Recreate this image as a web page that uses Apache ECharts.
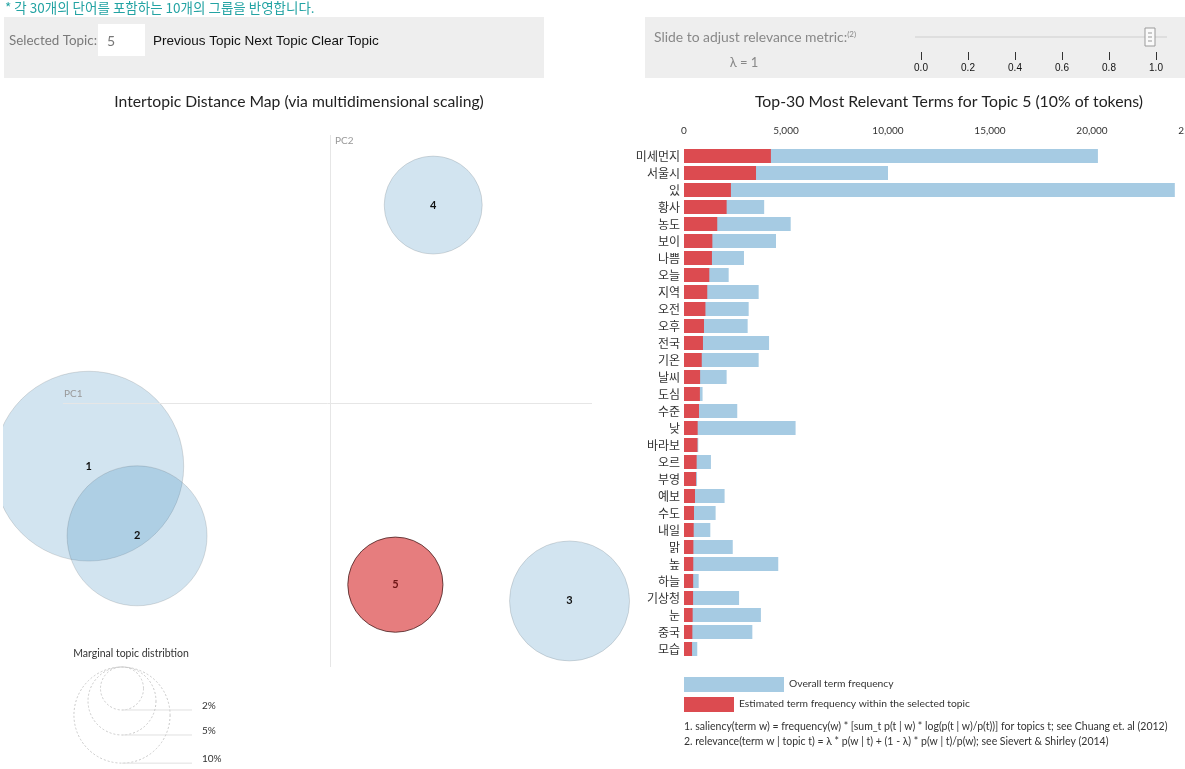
<!DOCTYPE html>
<html><head><meta charset="utf-8">
<script src="https://cdn.jsdelivr.net/npm/echarts@6/dist/echarts.min.js"></script>
<style>html,body{margin:0;padding:0;background:#fff}#c{width:1185px;height:769px}</style>
</head><body><div id="c"></div>
<script>
// ---- data ----
const topicIds = ['1', '2', '3', '4', '5'];
const topicPC1 = [-0.370, -0.296, 0.367, 0.158, 0.100];
const topicPC2 = [-0.097, -0.204, -0.304, 0.304, -0.279];
const topicShare = [39.0, 21.2, 15.6, 10.4, 9.8];   // % of tokens
const selectedTopic = '5';
const marginalShares = [2, 5, 10];

const terms = ['미세먼지','서울시','있','황사','농도','보이','나쁨','오늘','지역','오전','오후','전국','기온','날씨','도심',
  '수준','낮','바라보','오르','부영','예보','수도','내일','맑','높','하늘','기상청','눈','중국','모습'];
const termTotal = [20290, 10000, 24060, 3930, 5230, 4510, 2940, 2190, 3660, 3170, 3120, 4170, 3660, 2090, 910,
  2610, 5470, 700, 1320, 640, 1990, 1550, 1290, 2390, 4620, 720, 2700, 3770, 3350, 650];
const termTopic = [4260, 3530, 2300, 2090, 1630, 1390, 1370, 1240, 1140, 1050, 980, 930, 870, 790, 780,
  735, 670, 660, 620, 590, 540, 490, 475, 460, 455, 450, 445, 425, 410, 395];
const freqTicks = [0, 5000, 10000, 15000, 20000, 25000];
const lambdaTicks = [0, 0.2, 0.4, 0.6, 0.8, 1.0];
const lambdaValue = 1;

// ---- styles ----
const UI = 'Lato';
const KR = '"Noto Sans CJK KR"';
const rScale = 15.2;   // px radius per sqrt(%)
const rad = p => rScale * Math.sqrt(p);

const chart = echarts.init(document.getElementById('c'), null, {renderer: 'canvas'});

function txt(x, y, text, size, fill, opts) {
  opts = opts || {};
  return {type: 'text', z: opts.z || 10, x: x, y: y, silent: true,
    style: Object.assign({text: text, fill: fill, font: (opts.weight || 'normal') + ' ' + size + 'px ' + (opts.family || UI),
      align: opts.align || 'left', textAlign: opts.align || 'left',
      verticalAlign: 'middle', textVerticalAlign: 'middle'}, opts.extra || {})};
}

const graphics = [];
// header note
graphics.push(txt(5, 8, '* 각 30개의 단어를 포함하는 10개의 그룹을 반영합니다.', 13.5, '#23a3a3', {family: KR}));
// control panels
graphics.push({type: 'rect', z: 1, shape: {x: 4, y: 17, width: 540, height: 61}, style: {fill: '#eeeeee'}, silent: true});
graphics.push({type: 'rect', z: 1, shape: {x: 645, y: 17, width: 545, height: 61}, style: {fill: '#eeeeee'}, silent: true});
graphics.push(txt(9, 41, 'Selected Topic:', 13.4, '#7a7a7a'));
graphics.push({type: 'rect', z: 2, shape: {x: 98, y: 24, width: 47, height: 32}, style: {fill: '#ffffff'}, silent: true});
graphics.push(txt(107, 41, selectedTopic, 14, '#777'));
graphics.push(txt(153, 41, 'Previous Topic Next Topic Clear Topic', 13.5, '#111', {family: '"Liberation Sans"'}));
graphics.push({type: 'text', z: 10, x: 654, y: 38, silent: true, style: {
  text: '{a|Slide to adjust relevance metric:}{b|(2)}',
  align: 'left', textAlign: 'left', verticalAlign: 'middle', textVerticalAlign: 'middle',
  rich: {a: {fontFamily: UI, fontSize: 13.9, fill: '#888', color: '#888', lineHeight: 16},
         b: {fontFamily: UI, fontSize: 8, fill: '#888', color: '#888', verticalAlign: 'top', lineHeight: 16}}}});
graphics.push(txt(744, 63, 'λ = ' + lambdaValue, 13, '#888', {align: 'center'}));
// slider track + handle
graphics.push({type: 'rect', z: 2, shape: {x: 915, y: 36, width: 252, height: 2}, style: {fill: '#dedede'}, silent: true});
graphics.push({type: 'rect', z: 3, shape: {x: 1145, y: 28, width: 10, height: 18}, style: {fill: '#fafafa', stroke: '#9a9a9a', lineWidth: 1}, silent: true});
[33, 37, 41].forEach(y => graphics.push({type: 'line', z: 4, shape: {x1: 1148, y1: y, x2: 1152, y2: y}, style: {stroke: '#999', lineWidth: 1}, silent: true}));
// titles
graphics.push(txt(299, 102, 'Intertopic Distance Map (via multidimensional scaling)', 15.7, '#222', {align: 'center'}));
graphics.push(txt(949, 102, 'Top-30 Most Relevant Terms for Topic ' + selectedTopic + ' (10% of tokens)', 15.8, '#222', {align: 'center'}));
graphics.push(txt(64, 394, 'PC1', 10, '#999'));
graphics.push(txt(335, 141, 'PC2', 10, '#999'));
// marginal topic distribution legend
graphics.push(txt(131, 654, 'Marginal topic distribtion', 10.5, '#333', {align: 'center'}));
const legTop = 667, legX = 122;
marginalShares.forEach(p => {
  const r = rad(p);
  graphics.push({type: 'circle', z: 5, shape: {cx: legX, cy: legTop + r, r: r},
    style: {fill: 'none', stroke: '#c8c8c8', lineWidth: 1, lineDash: [2, 2]}, silent: true});
  graphics.push({type: 'line', z: 5, shape: {x1: legX, y1: legTop + 2 * r, x2: 192, y2: legTop + 2 * r},
    style: {stroke: '#e0e0e0', lineWidth: 1}, silent: true});
  graphics.push(txt(202, legTop + 2 * r - 4, p + '%', 10, '#333'));
});
// bar legend + notes
graphics.push({type: 'rect', z: 5, shape: {x: 684, y: 677, width: 100, height: 15}, style: {fill: '#a6cbe3'}, silent: true});
graphics.push(txt(789, 684, 'Overall term frequency', 10.3, '#333'));
graphics.push({type: 'rect', z: 5, shape: {x: 684, y: 697, width: 50, height: 15}, style: {fill: '#dc4b50'}, silent: true});
graphics.push(txt(739, 704, 'Estimated term frequency within the selected topic', 10.3, '#333'));
graphics.push(txt(684, 727, '1. saliency(term w) = frequency(w) * [sum_t p(t | w) * log(p(t | w)/p(t))] for topics t; see Chuang et. al (2012)', 10.5, '#333'));
graphics.push(txt(684, 742, '2. relevance(term w | topic t) = \u03bb * p(w | t) + (1 - \u03bb) * p(w | t)/p(w); see Sievert & Shirley (2014)', 10.5, '#333'));
// left-edge clip of the map area
graphics.push({type: 'rect', z: 100, shape: {x: 0, y: 300, width: 3, height: 300}, style: {fill: '#fff'}, silent: true});

const scatterData = topicIds.map((id, i) => {
  const sel = id === selectedTopic;
  return {
    name: id,
    value: [topicPC1[i], topicPC2[i], topicShare[i]],
    itemStyle: sel ? {color: 'rgba(214,39,40,0.6)', borderColor: 'rgba(60,20,20,0.75)', borderWidth: 1, opacity: 1}
                   : {color: 'rgba(31,119,180,0.2)', borderColor: 'rgba(0,0,0,0.12)', borderWidth: 1, opacity: 1},
    label: {color: sel ? '#6e1515' : '#111'}
  };
});

chart.setOption({
  animation: false,
  textStyle: {fontFamily: UI},
  graphic: graphics,
  grid: [
    {left: 4, top: 110, width: 636, height: 586, outerBoundsMode: 'none', containLabel: false},
    {left: 684, top: 147.5, width: 510, height: 510, outerBoundsMode: 'none', containLabel: false},
    {left: 921, top: 51, width: 235, height: 1, outerBoundsMode: 'none', containLabel: false}
  ],
  xAxis: [
    {gridIndex: 0, type: 'value', min: -0.5, max: 0.475, show: false},
    {gridIndex: 1, type: 'value', position: 'top', min: 0, max: 25000, interval: 5000,
      axisLine: {show: false}, axisTick: {show: false}, splitLine: {show: false},
      axisLabel: {margin: 12, fontSize: 10, color: '#333', fontFamily: UI, hideOverlap: false,
        formatter: v => freqTicks.indexOf(v) >= 0 ? v.toLocaleString('en-US') : ''}},
    {gridIndex: 2, type: 'value', position: 'bottom', min: 0, max: 1, interval: 0.2, z: 30,
      axisLine: {show: false}, splitLine: {show: false},
      axisTick: {show: true, length: 8, lineStyle: {color: '#333'}},
      axisLabel: {show: true, margin: 11, fontSize: 10, color: '#111', fontFamily: '"Liberation Sans"',
        showMinLabel: true, showMaxLabel: true,
        formatter: v => lambdaTicks.some(t => Math.abs(t - v) < 1e-9) ? Number(v).toFixed(1) : ''}}
  ],
  yAxis: [
    {gridIndex: 0, type: 'value', min: -0.45, max: 0.45, show: false},
    {gridIndex: 1, type: 'category', inverse: true, data: terms,
      axisLine: {show: false}, axisTick: {show: false},
      axisLabel: {margin: 4, fontSize: 12, color: '#333', fontFamily: KR, interval: 0}},
    {gridIndex: 2, type: 'value', min: 0, max: 1, show: false}
  ],
  series: [
    {type: 'scatter', xAxisIndex: 0, yAxisIndex: 0, data: scatterData, clip: false,
      symbol: 'circle', symbolSize: v => 2 * rad(v[2]),
      label: {show: true, position: 'inside', formatter: p => p.name, fontWeight: 'bold', fontSize: 11, fontFamily: UI},
      emphasis: {disabled: true},
      markLine: {silent: true, symbol: 'none', animation: false,
        lineStyle: {color: '#e6e6e6', width: 1, type: 'solid'}, label: {show: false},
        data: [
          [{coord: [0, 0.4116]}, {coord: [0, -0.4055]}],
          [{coord: [-0.4096, 0]}, {coord: [0.4014, 0]}]
        ]}},
    {type: 'bar', name: 'Overall term frequency', xAxisIndex: 1, yAxisIndex: 1, data: termTotal,
      barWidth: 14, itemStyle: {color: '#a6cbe3'}, emphasis: {disabled: true}},
    {type: 'bar', name: 'Estimated term frequency within the selected topic', xAxisIndex: 1, yAxisIndex: 1, data: termTopic,
      barWidth: 14, barGap: '-100%', itemStyle: {color: '#dc4b50'}, emphasis: {disabled: true}},
    {type: 'scatter', xAxisIndex: 2, yAxisIndex: 2, data: [[lambdaValue, 0]], symbolSize: 0, silent: true}
  ]
});
</script></body></html>
